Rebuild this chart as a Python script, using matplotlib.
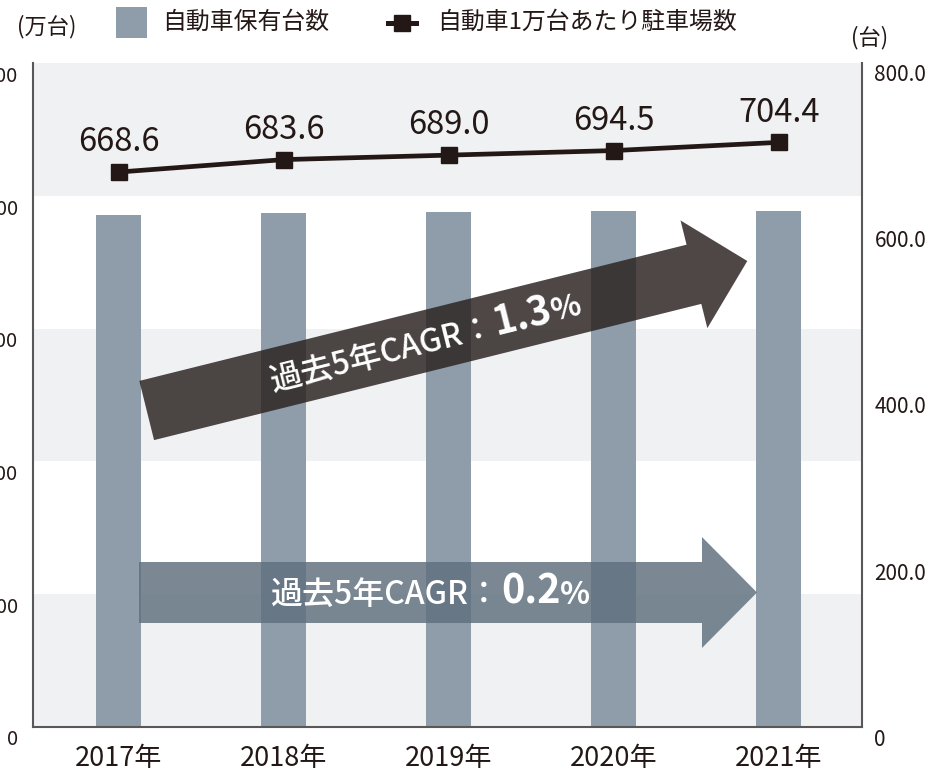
import numpy as np
import matplotlib
matplotlib.use("Agg")
import matplotlib.pyplot as plt
from matplotlib.patches import Polygon, Rectangle
from matplotlib.lines import Line2D

plt.rcParams['font.family'] = ['Noto Sans CJK JP', 'DejaVu Sans']

# data
years = ['2017年', '2018年', '2019年', '2020年', '2021年']
cars = [7710, 7741, 7756, 7771, 7778]            # 自動車保有台数 (万台)
parking = [668.6, 683.6, 689.0, 694.5, 704.4]    # 自動車1万台あたり駐車場数 (台)
left_ticks = [0, 2000, 4000, 6000, 8000, 10000]
right_ticks = [0, 200, 400, 600, 800]
right_labels = ['0', '200.0', '400.0', '600.0', '800.0']

INK = '#231815'
BAR = '#8f9dab'
BAND = '#f0f1f3'
SPINE = '#595757'

W, H = 946, 773
fig = plt.figure(figsize=(W / 100, H / 100), dpi=100)


def px(x, y):
    # image pixel (top-left origin) -> figure fraction
    return (x / W, 1 - y / H)


ax = fig.add_axes([33 / W, 1 - 727 / H, (862 - 33) / W, (727 - 63) / H])
x = np.arange(len(years))
ax.set_xlim(-0.518, 4.503)
ax.set_ylim(0, 10000)

for lo in (0, 4000, 8000):
    ax.axhspan(lo, lo + 2000, color=BAND, lw=0, zorder=0)

ax.bar(x, cars, width=0.273, color=BAR, zorder=2)

ax.set_xticks(x)
ax.set_xticklabels(years, fontsize=19.5, color=INK)
ax.tick_params(axis='x', length=0, pad=13)
ax.set_yticks(left_ticks)
ax.set_yticklabels([])
ax.tick_params(axis='y', length=0)
for v in left_ticks:
    ax.annotate(f'{v:,}', xy=(0, v), xycoords=('axes fraction', 'data'),
                xytext=(-10.8, -9), textcoords='offset points',
                ha='right', va='center', fontsize=14.5, color=INK)

for s in ('top', 'right'):
    ax.spines[s].set_visible(False)
for s in ('left', 'bottom'):
    ax.spines[s].set_color(SPINE)
    ax.spines[s].set_linewidth(1.5)

ax2 = ax.twinx()
ax2.set_ylim(0, 800)
ax2.plot(x, parking, color=INK, lw=3.4, marker='s', ms=11.5, zorder=3)
for xi, v in zip(x, parking):
    ax2.annotate(f'{v:.1f}', xy=(xi, v), xytext=(0, 15), textcoords='offset points',
                 ha='center', va='baseline', fontsize=23.5, color=INK)
ax2.set_yticks(right_ticks)
ax2.set_yticklabels([])
ax2.tick_params(axis='y', length=0)
for v, lab in zip(right_ticks, right_labels):
    ax2.annotate(lab, xy=(1, v), xycoords=('axes fraction', 'data'),
                 xytext=(9.0, -9), textcoords='offset points',
                 ha='left', va='center', fontsize=15, color=INK)
for s in ('top', 'left', 'bottom'):
    ax2.spines[s].set_visible(False)
ax2.spines['right'].set_color(SPINE)
ax2.spines['right'].set_linewidth(1.5)

# unit labels
fig.text(*px(17, 27), '(万台)', ha='left', va='center', fontsize=16, color=INK)
fig.text(*px(851, 38), '(台)', ha='left', va='center', fontsize=16, color=INK)

# legend
fig.add_artist(Rectangle(px(116, 38), 31 / W, 31 / H, transform=fig.transFigure,
                         fc=BAR, lw=0))
fig.text(*px(162, 22), '自動車保有台数', ha='left', va='center', fontsize=17.2, color=INK)
lx0, ly = px(388, 23)
lx1, _ = px(416, 23)
fig.add_artist(Line2D([lx0, lx1], [ly, ly], transform=fig.transFigure, color=INK, lw=3.6))
fig.add_artist(Line2D([(lx0 + lx1) / 2], [ly], transform=fig.transFigure, color=INK,
                      marker='s', ms=11.5, lw=0))
fig.text(*px(437, 22), '自動車1万台あたり駐車場数', ha='left', va='center',
         fontsize=17.2, color=INK)


def arrow(tail, tip, color, alpha, shaft=61, head=111, head_len=55):
    tail, tip = np.array(tail, float), np.array(tip, float)
    d = tip - tail
    u = d / np.hypot(*d)
    n = np.array([-u[1], u[0]])
    base = tip - u * head_len
    pts = [tail + n * shaft / 2, base + n * shaft / 2, base + n * head / 2, tip,
           base - n * head / 2, base - n * shaft / 2, tail - n * shaft / 2]
    fig.add_artist(Polygon([px(*p) for p in pts], closed=True, transform=fig.transFigure,
                           fc=color, alpha=alpha, lw=0, zorder=5))
    return tail, u


def label_along(tail, u, start, drop, pieces):
    renderer = fig.canvas.get_renderer()
    ang = np.degrees(np.arctan2(-u[1], u[0]))
    down = np.array([-u[1], u[0]])
    if down[1] < 0:
        down = -down
    pos = tail + u * start + down * drop
    for s, size, weight in pieces:
        tmp = fig.text(0, 0, s, fontsize=size, fontweight=weight)
        w = tmp.get_window_extent(renderer).width
        tmp.remove()
        fig.text(*px(*pos), s, rotation=ang, rotation_mode='anchor', ha='left',
                 va='baseline', fontsize=size, fontweight=weight, color='white', zorder=6)
        pos = pos + u * w


pieces_up = [('過去5年CAGR：', 23, 'medium'), ('1.3', 28.5, 'bold'), ('%', 22.5, 'bold')]
pieces_flat = [('過去5年CAGR：', 23, 'medium'), ('0.2', 28.5, 'bold'), ('%', 22.5, 'bold')]

t1, u1 = arrow((146.7, 410.5), (747.3, 261), '#2a2220', 0.83)
label_along(t1, u1, 128, 11.5, pieces_up)

t2, u2 = arrow((139, 592.5), (757, 592.5), '#60707f', 0.83)
label_along(t2, u2, 132, 11.5, pieces_flat)

fig.savefig('out.png', dpi=100)
